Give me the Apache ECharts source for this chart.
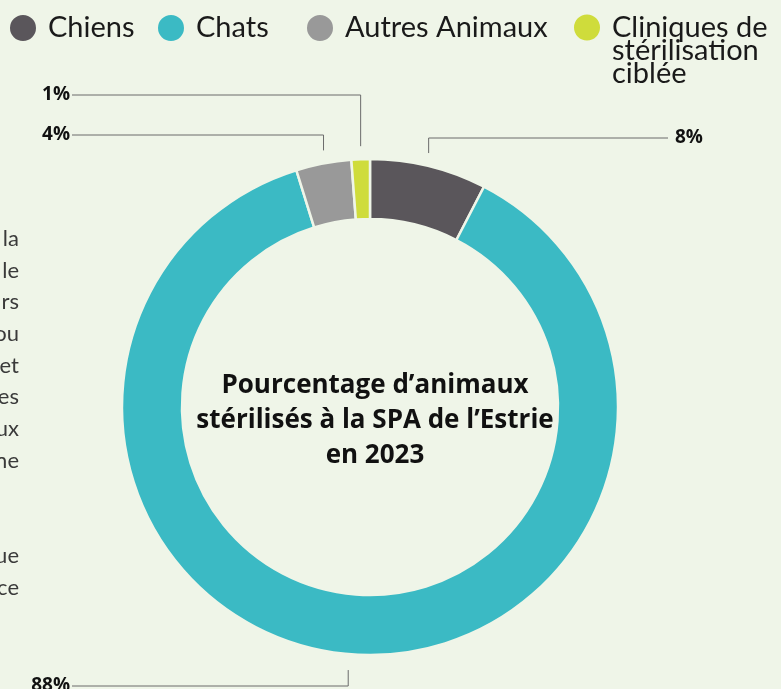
<!DOCTYPE html>
<html>
<head>
<meta charset="utf-8">
<script src="https://cdn.jsdelivr.net/npm/echarts@6/dist/echarts.min.js"></script>
<style>
  html, body { margin: 0; padding: 0; background: #eff5e8; }
  #chart { width: 781px; height: 689px; }
</style>
</head>
<body>
<div id="chart"></div>
<script>
// données
const categories = ['Chiens', 'Chats', 'Autres Animaux', 'Cliniques de stérilisation ciblée']
const legendLabels = ['Chiens', 'Chats', 'Autres Animaux', 'Cliniques de\nstérilisation\nciblée']
const values = [7.6, 87.6, 3.6, 1.2]
const colors = ['#5a565b', '#3bbac4', '#999999', '#cfdc3b']
const titleLines = ['Pourcentage d’animaux', 'stérilisés à la SPA de l’Estrie', 'en 2023']
// fin des lignes du paragraphe coupé à gauche
const sideText = ['la', 'le', 'rs', 'ou', 'et', 'es', 'ux', 'ne', '', '', 'ue', 'ce']

const chart = echarts.init(document.getElementById('chart'))

const CENTER = [370, 407]
const BG = '#eff5e8'
const BOLD_FONT = 'Open Sans'

// position des étiquettes : hauteur de la ligne de rappel et côté
const labelSpots = [
  { y: 138, side: 'right' },
  { y: 686, side: 'left' },
  { y: 135, side: 'left' },
  { y: 95, side: 'left' }
]

const legendLefts = [3, 151, 300, 567]

const legends = categories.map((name, i) => {
  const lines = legendLabels[i].split('\n')
  // texte centré sur l'icône : on ajoute des lignes vides au-dessus
  // pour que la première ligne reste en face du rond
  const pad = lines.length - 1
  const shown = new Array(pad).fill('').concat(lines).join('\n')
  return {
    data: [name],
    left: legendLefts[i],
    top: 8 - pad * 23,
    orient: 'horizontal',
    icon: 'circle',
    itemWidth: 28,
    itemHeight: 28,
    selectedMode: false,
    formatter: () => shown,
    textStyle: {
      fontFamily: 'Lato',
      fontSize: 29,
      color: '#1a1a1a',
      lineHeight: 23,
      padding: [0, 0, 0, 6]
    }
  }
})

const option = {
  backgroundColor: BG,
  color: colors,
  title: {
    text: titleLines.join('\n'),
    left: CENTER[0],
    top: 363,
    textAlign: 'center',
    textStyle: {
      fontFamily: BOLD_FONT,
      fontWeight: 'bold',
      fontSize: 26,
      lineHeight: 35,
      color: '#111'
    }
  },
  legend: legends,
  graphic: [{
    type: 'text',
    x: 19,
    y: 223,
    style: {
      text: sideText.join('\n'),
      textAlign: 'right',
      fontFamily: 'Lato',
      fontSize: 22,
      lineHeight: 31.7,
      fill: '#3a3a3a'
    }
  }],
  series: [{
    type: 'pie',
    center: CENTER,
    radius: [188, 248],
    startAngle: 90,
    clockwise: true,
    avoidLabelOverlap: false,
    itemStyle: {
      borderColor: BG,
      borderWidth: 2.5
    },
    emphasis: { disabled: true },
    label: {
      show: true,
      position: 'outside',
      formatter: p => Math.round(p.percent) + '%',
      fontFamily: BOLD_FONT,
      fontWeight: 'bold',
      fontSize: 19,
      color: '#111'
    },
    labelLine: {
      show: true,
      length: 12,
      length2: 0,
      lineStyle: { color: '#6b6b6b', width: 1 }
    },
    labelLayout: function (p) {
      const spot = labelSpots[p.dataIndex]
      const pts = p.labelLinePoints
      const x0 = pts[0][0]
      const y0 = pts[0][1]
      const dir = y0 < CENTER[1] ? -1 : 1
      const yStart = y0 + dir * (dir < 0 ? 13 : 16)
      const endX = spot.side === 'left' ? 72 : 668
      return {
        x: spot.side === 'left' ? 70 : 675,
        y: spot.y,
        align: spot.side === 'left' ? 'right' : 'left',
        verticalAlign: 'middle',
        labelLinePoints: [[x0, yStart], [x0, spot.y], [endX, spot.y]]
      }
    },
    data: categories.map((name, i) => ({ name: name, value: values[i] }))
  }]
}

chart.setOption(option)
</script>
</body>
</html>
